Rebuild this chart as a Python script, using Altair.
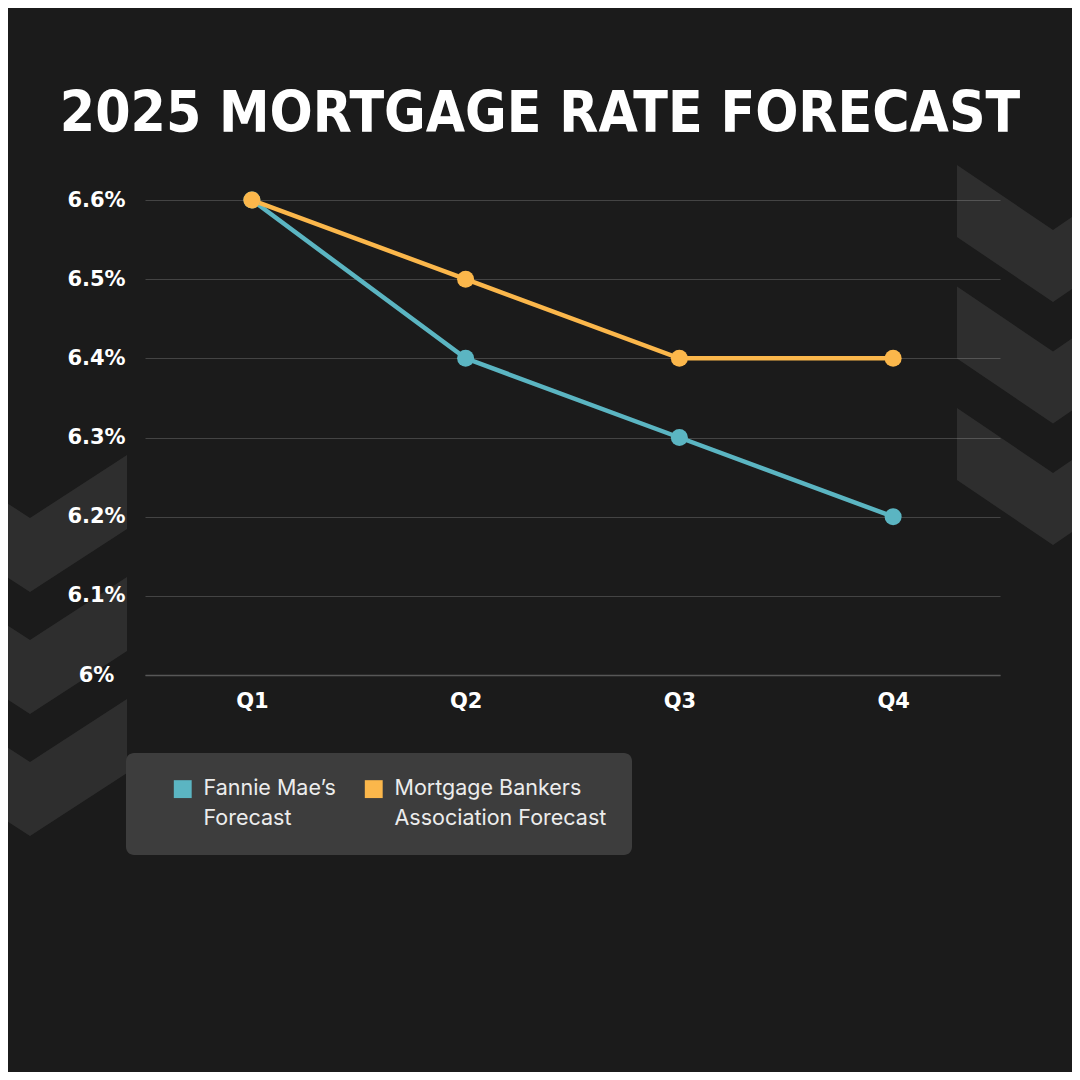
import json
import altair as alt
import pandas as pd

# ---------------- data ----------------
title_text = "2025 MORTGAGE RATE FORECAST"
quarters = ["Q1", "Q2", "Q3", "Q4"]
fannie_mae = [6.6, 6.4, 6.3, 6.2]
mba = [6.6, 6.5, 6.4, 6.4]
series_names = ["Fannie Mae’s Forecast", "Mortgage Bankers Association Forecast"]
series_label_lines = [["Fannie Mae’s", "Forecast"], ["Mortgage Bankers", "Association Forecast"]]
series_colors = ["#5bb5c2", "#fbb74b"]
y_ticks = [6.0, 6.1, 6.2, 6.3, 6.4, 6.5, 6.6]

# ---------------- layout constants ----------------
PLOT_W, PLOT_H = 855, 475
PAD_L, PAD_T = 137, 192
TOTAL_W, TOTAL_H = 1064, 1064
OX, OY = 145, 200  # plot origin in page pixels

rows = []
for name, vals in zip(series_names, [fannie_mae, mba]):
    for q, v in zip(quarters, vals):
        rows.append({"quarter": q, "series": name, "rate": v})
df = pd.DataFrame(rows)

# decorative chevrons (page pixel coords): (x, top, bottom)
chev_rows = []
right_tops = [165, 286.5, 408]
for i, t in enumerate(right_tops):
    for x, dy in [(957, 0), (1053, 65), (1085, 43)]:
        chev_rows.append({"id": f"r{i}", "px": x - OX, "top": t + dy - OY, "bot": t + dy + 72 - OY})
left_vertex = [518, 640, 762]
for i, v in enumerate(left_vertex):
    for x, dy in [(-10, -26), (30, 0), (127, -63)]:
        chev_rows.append({"id": f"l{i}", "px": x - OX, "top": v + dy - OY, "bot": v + dy + 74 - OY})
chev_df = pd.DataFrame(chev_rows)

xscale = alt.Scale(type="point", domain=quarters, padding=0.5)
yscale = alt.Scale(domain=[6.0, 6.6], nice=False, zero=False)
cscale = alt.Scale(domain=series_names, range=series_colors)

label_expr = " : ".join(
    f"datum.label == {json.dumps(n)} ? {json.dumps(lines)}" for n, lines in zip(series_names[:-1], series_label_lines[:-1])
) + " : " + json.dumps(series_label_lines[-1])

legend = alt.Legend(title=None, orient="none", legendX=27, legendY=578,
                    direction="horizontal", columns=2, columnPadding=27,
                    symbolType="square", symbolSize=320, symbolStrokeWidth=0,
                    symbolOpacity=1, labelOffset=10, labelFont="Inter",
                    labelFontSize=21.5, labelColor="#ececec", labelLimit=400,
                    labelExpr=label_expr, padding=0)

chevrons = alt.Chart(chev_df).mark_area(color="#ffffff", opacity=0.085).encode(
    x=alt.X("px:Q", scale=None, axis=None),
    y=alt.Y("top:Q", scale=None, axis=None),
    y2="bot:Q",
    detail="id:N",
)

legend_box = alt.Chart(pd.DataFrame({"k": [0]})).mark_rect(
    color="#3d3d3d", cornerRadius=8
).encode(
    x=alt.value(126 - OX), x2=alt.value(632 - OX),
    y=alt.value(753 - OY), y2=alt.value(855 - OY),
)

title = alt.Chart(pd.DataFrame({"t": [title_text]})).mark_text(
    font="DejaVu Sans Condensed", fontWeight="bold", fontSize=56.5, color="#ffffff",
    align="center", baseline="alphabetic",
).encode(text="t:N", x=alt.value(540 - OX), y=alt.value(132 - OY))

base = alt.Chart(df).encode(
    x=alt.X("quarter:N", scale=xscale, sort=quarters,
            axis=alt.Axis(title=None, labelAngle=0, labelFont="DejaVu Sans", labelFontWeight="bold",
                          labelFontSize=21, labelColor="#ffffff", labelPadding=15,
                          ticks=False, tickSize=0, domain=True, domainColor="#575757",
                          domainWidth=1.5, grid=False)),
    y=alt.Y("rate:Q", scale=yscale,
            axis=alt.Axis(title=None, values=y_ticks, labelExpr="format(datum.value, '~g') + '%'",
                          labelFont="DejaVu Sans", labelFontWeight="bold", labelFontSize=21,
                          labelColor="#ffffff", labelAlign="center", labelBaseline="middle",
                          labelPadding=49, ticks=False, tickSize=0, domain=False,
                          grid=True, gridColor="#444444", gridWidth=1)),
)

lines = base.mark_line(strokeWidth=4.5).encode(
    color=alt.Color("series:N", scale=cscale, legend=legend)
)

points = base.mark_circle(size=290, opacity=1).encode(
    color=alt.Color("series:N", scale=cscale, legend=legend)
)

chart = alt.layer(chevrons, legend_box, title, lines, points).properties(
    width=PLOT_W, height=PLOT_H,
    autosize=alt.AutoSizeParams(type="none"),
    padding={"left": PAD_L, "top": PAD_T, "right": TOTAL_W - PAD_L - PLOT_W, "bottom": TOTAL_H - PAD_T - PLOT_H},
    background="#1b1b1b",
).configure(
    style={"guide-label": {"lineHeight": 30}}
).configure_view(stroke=None)

chart.save("out.html", embed_options={"renderer": "svg", "actions": False})
